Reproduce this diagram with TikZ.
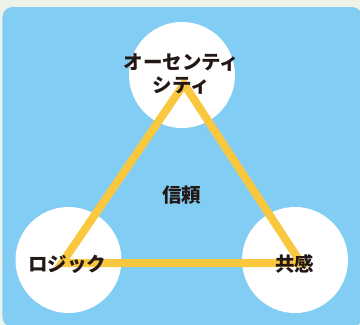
\documentclass[tikz,border=0pt]{standalone}
\usepackage{fontspec}
\newfontfamily\jpfont{Noto Sans CJK JP}
\definecolor{pagebg}{HTML}{EEF3EA}
\definecolor{panelblue}{HTML}{82CDF4}
\definecolor{triyellow}{HTML}{F9C83F}
\definecolor{inkdark}{HTML}{231815}
\begin{document}
\begin{tikzpicture}[x=1pt,y=-1pt,
  disc/.style={circle,fill=white,minimum size=106pt,inner sep=0pt},
  lbl/.style={font=\jpfont\bfseries\fontsize{19.5}{23}\selectfont,text=inkdark,align=center,inner sep=0pt},
  edge/.style={draw=triyellow,line width=8pt,line join=miter}]
\useasboundingbox (0,0) rectangle (360,325);
\fill[pagebg] (0,0) rectangle (360,325);
\fill[panelblue,rounded corners=10pt] (2.5,7) rectangle (362,327);
\node[disc] (ctop) at (182,75) {};
\node[disc] (cleft) at (68.5,260) {};
\node[disc] (cright) at (295,260) {};
\coordinate (A) at (184,84);
\coordinate (B) at (62,263);
\coordinate (C) at (301,263);
\draw[edge] (A) -- (B) -- (C) -- cycle;
\node[lbl] (tauth) at (181.5,74) {オーセンティ\\シティ};
\node[lbl] (ttrust) at (182,195) {信頼};
\node[lbl] (tlogic) at (67.5,264) {ロジック};
\node[lbl] (tempathy) at (295,264) {共感};
\end{tikzpicture}
\end{document}
